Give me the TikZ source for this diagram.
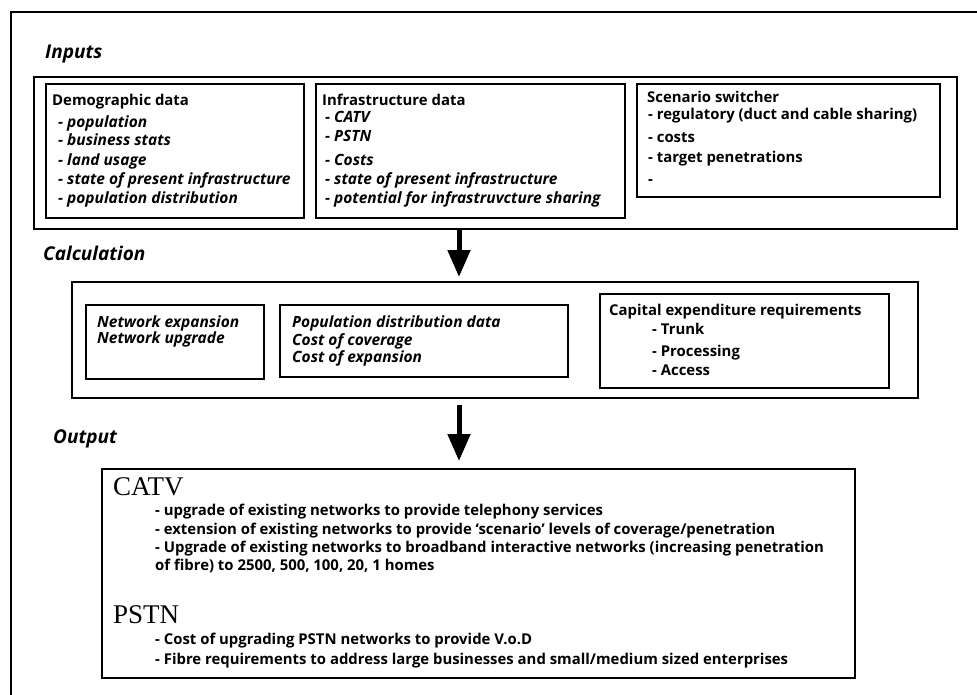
\documentclass[tikz,border=0pt]{standalone}
\usepackage{fontspec}
\setmainfont{Open Sans}
\newfontfamily\headfont{Liberation Serif}
\usetikzlibrary{arrows.meta}

\begin{document}
\begin{tikzpicture}[x=1pt,y=-1pt,
  frame/.style={draw, line width=2.4pt, anchor=north west, inner sep=0pt, outer sep=0pt},
  line/.style={anchor=base west, inner sep=0pt, font=\fontsize{14.9}{16}\selectfont\bfseries},
  itline/.style={line, font=\fontsize{15.5}{16}\selectfont\bfseries\itshape},
  section/.style={anchor=base west, inner sep=0pt, font=\fontsize{19}{20}\selectfont\bfseries\itshape},
  bigline/.style={anchor=base west, inner sep=0pt, font=\fontsize{27}{28}\headfont},
  flow/.style={line width=5pt, -{Triangle[length=27pt,width=22pt]}}]
\useasboundingbox (0,0) rectangle (977,695);

% outer frame, cut off at right and bottom
\draw[line width=2pt] (977,12) -- (11,12) -- (11,695);

% boxes
\node[frame, minimum width=923pt, minimum height=152pt] (inputs) at (34,77) {};
\node[frame, minimum width=258pt, minimum height=134pt] (demo) at (46,84) {};
\node[frame, minimum width=309pt, minimum height=134pt] (infra) at (316,84) {};
\node[frame, minimum width=303pt, minimum height=113pt] (scen) at (637,84) {};
\node[frame, minimum width=846pt, minimum height=116pt] (calc) at (72,282) {};
\node[frame, minimum width=178pt, minimum height=74pt] (netw) at (86,305) {};
\node[frame, minimum width=288pt, minimum height=72pt] (popd) at (280,305) {};
\node[frame, minimum width=289pt, minimum height=94pt] (capex) at (600,294) {};
\node[frame, minimum width=753pt, minimum height=209pt] (output) at (102,469) {};

% section labels
\node[section] (lblin) at (45,59) {Inputs};
\node[section] (lblcalc) at (43,260) {Calculation};
\node[section] (lblout) at (53,443) {Output};

% inputs
\node[line] (demohead) at (52,106) {Demographic data};
\foreach \t/\y [count=\i] in {population/128, business stats/146, land usage/166,
    state of present infrastructure/185, population distribution/204}
  \node[itline] (demo\i) at (58,\y) {- \t};
\node[line] (infrahead) at (322,106) {Infrastructure data};
\foreach \t/\y [count=\i] in {CATV/123, PSTN/142, Costs/166,
    state of present infrastructure/185, potential for infrastruvcture sharing/204}
  \node[itline] (infra\i) at (325,\y) {- \t};
\node[line] (scenhead) at (647,103) {Scenario switcher};
\foreach \t/\y [count=\i] in {regulatory (duct and cable sharing)/120, costs/143,
    target penetrations/163, /185}
  \node[line] (scen\i) at (648,\y) {- \t};

% calculation
\node[itline] (netw1) at (97,327) {Network expansion};
\node[itline] (netw2) at (97,343) {Network upgrade};
\node[itline] (popd1) at (292,327) {Population distribution data};
\node[itline] (popd2) at (292,345) {Cost of coverage};
\node[itline] (popd3) at (292,362) {Cost of expansion};
\node[line] (capexhead) at (609,315) {Capital expenditure requirements};
\foreach \t/\y [count=\i] in {Trunk/334, Processing/356, Access/375}
  \node[line] (capex\i) at (652,\y) {- \t};

% output
\node[bigline] (catv) at (113,495) {CATV};
\node[line] (catv1) at (155,515) {- upgrade of existing networks to provide telephony services};
\node[line] (catv2) at (155,534) {- extension of existing networks to provide ‘scenario’ levels of coverage/penetration};
\node[line] (catv3) at (155,552) {- Upgrade of existing networks to broadband interactive networks (increasing penetration};
\node[line] (catv4) at (155,570) {of fibre) to 2500, 500, 100, 20, 1 homes};
\node[bigline] (pstn) at (113,623) {PSTN};
\node[line] (pstn1) at (155,644) {- Cost of upgrading PSTN networks to provide V.o.D};
\node[line] (pstn2) at (155,664) {- Fibre requirements to address large businesses and small/medium sized enterprises};

% flow arrows
\coordinate (arrx) at (459,0);
\draw[flow, shorten >=5pt] (arrx |- inputs.south) -- (arrx |- calc.north);
\draw[flow, shorten <=7pt, shorten >=8pt] (arrx |- calc.south) -- (arrx |- output.north);
\end{tikzpicture}
\end{document}
